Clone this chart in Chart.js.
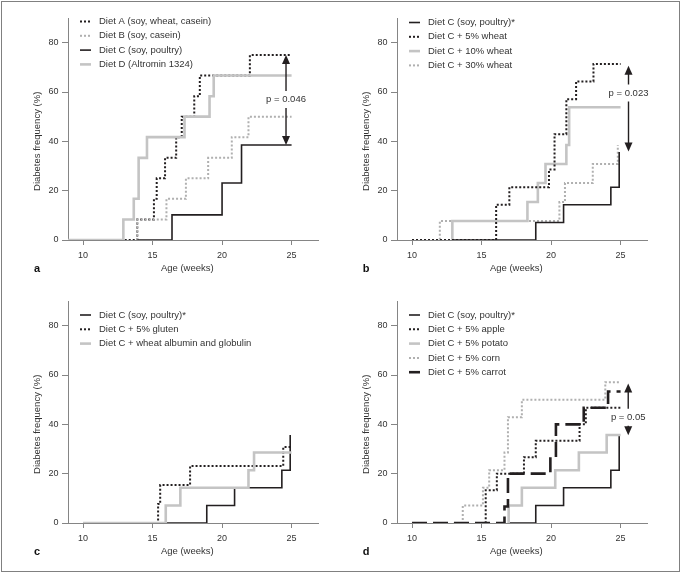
<!DOCTYPE html>
<html>
<head>
<meta charset="utf-8">
<script src="https://cdn.jsdelivr.net/npm/chart.js@4.4.0/dist/chart.umd.min.js"></script>
<style>
  html, body { margin: 0; padding: 0; background: #fff; }
  #page { position: relative; width: 681px; height: 573px; overflow: hidden; }
  #frame { position: absolute; left: 1px; top: 1px; width: 679px; height: 571px; border: 1px solid #808080; box-sizing: border-box; }
  canvas { position: absolute; }
</style>
</head>
<body>
<div id="page">
  <div id="frame"></div>
  <canvas id="chartA" width="329" height="283" style="left:0;top:0"></canvas>
  <canvas id="chartB" width="329" height="283" style="left:329px;top:0"></canvas>
  <canvas id="chartC" width="329" height="283" style="left:0;top:283px"></canvas>
  <canvas id="chartD" width="329" height="283" style="left:329px;top:283px"></canvas>
</div>
<script>
// axis ticks (shared by all four panels)
const xTicks = [10, 15, 20, 25];
const yTicks = [0, 20, 40, 60, 80];

// panel a
const aLabels = ['Diet A (soy, wheat, casein)', 'Diet B (soy, casein)', 'Diet C (soy, poultry)', 'Diet D (Altromin 1324)'];
const a_dietA_x = [13.0, 13.9, 15.1, 15.3, 15.9, 16.7, 17.1, 18.0, 18.4, 22.0, 25];
const a_dietA_y = [0, 8.3, 16.7, 25, 33.3, 41.7, 50, 58.3, 66.7, 75, 75];
const a_dietB_x = [13.9, 13.9, 16.0, 17.4, 19.0, 20.7, 21.9, 25];
const a_dietB_y = [0, 8.3, 16.7, 25, 33.3, 41.7, 50, 50];
const a_dietC_x = [13.9, 16.4, 20.0, 21.4, 25];
const a_dietC_y = [0, 10.2, 23.1, 38.5, 38.5];
const a_dietD_x = [8.92, 12.9, 13.65, 14.0, 14.6, 17.3, 19.1, 19.4, 25];
const a_dietD_y = [0, 8.3, 16.7, 33.3, 41.7, 50, 58.3, 66.7, 66.7];

// panel b
const bLabels = ['Diet C (soy, poultry)*', 'Diet C + 5% wheat', 'Diet C + 10% wheat', 'Diet C + 30% wheat'];
const b_dietC_x = [13.0, 18.9, 20.9, 24.3, 24.9];
const b_dietC_y = [0, 7.1, 14.3, 21.4, 35.7];
const b_wheat5_x = [10, 16.05, 17.0, 19.85, 20.25, 21.1, 21.8, 23.05, 25];
const b_wheat5_y = [0, 14.3, 21.4, 28.6, 42.9, 57.1, 64.3, 71.4, 71.4];
const b_wheat10_x = [12.9, 12.9, 18.3, 19.05, 19.6, 21.1, 21.3, 25];
const b_wheat10_y = [0, 7.7, 15.4, 23.1, 30.8, 38.5, 53.8, 53.8];
const b_wheat30_x = [10, 12.0, 20.6, 21.0, 23.0, 24.8];
const b_wheat30_y = [0, 7.7, 15.4, 23.1, 30.8, 38.5];

// panel c
const cLabels = ['Diet C (soy, poultry)*', 'Diet C + 5% gluten', 'Diet C + wheat albumin and globulin'];
const c_dietC_x = [15.95, 18.9, 20.9, 24.3, 24.9];
const c_dietC_y = [0, 7.1, 14.3, 21.4, 35.7];
const c_gluten_x = [15.0, 15.4, 15.55, 17.7, 24.4, 25];
const c_gluten_y = [0, 7.7, 15.4, 23.1, 30.8, 30.8];
const c_albumin_x = [10, 15.95, 17.0, 21.9, 22.3, 25];
const c_albumin_y = [0, 7.1, 14.3, 21.4, 28.6, 28.6];

// panel d
const dLabels = ['Diet C (soy, poultry)*', 'Diet C + 5% apple', 'Diet C + 5% potato', 'Diet C + 5% corn', 'Diet C + 5% carrot'];
const d_dietC_x = [16.9, 18.9, 20.9, 24.3, 24.9];
const d_dietC_y = [0, 7.1, 14.3, 21.4, 35.7];
const d_apple_x = [15.0, 15.3, 16.1, 18.05, 18.9, 22.05, 22.5, 25];
const d_apple_y = [0, 13.3, 20, 26.7, 33.3, 40, 46.7, 46.7];
const d_potato_x = [16.9, 16.95, 17.9, 20.3, 22.0, 24.0, 25];
const d_potato_y = [0, 7.1, 14.3, 21.4, 28.6, 35.7, 35.7];
const d_corn_x = [13.0, 13.65, 15.1, 15.55, 16.65, 16.9, 17.9, 23.9, 25];
const d_corn_y = [0, 7.1, 14.3, 21.4, 28.6, 42.9, 50, 57.1, 57.1];
const d_carrot_x = [10, 16.65, 16.9, 19.95, 20.35, 22.35, 24.1, 25];
const d_carrot_y = [0, 6.7, 20, 26.7, 40, 46.7, 53.3, 53.3];

// p-value brackets (x position, arrow tips, label height)
const pA = { x: 24.6, top: 75, bottom: 38.5, labelY: 57, label: 'p = 0.046' };
const pB = { x: 25.57, top: 70.6, bottom: 35.9, labelY: 59.6, label: 'p = 0.023' };
const pD = { x: 25.55, top: 56.6, bottom: 35.6, labelY: 42.9, label: 'p = 0.05' };

const BLACK = '#231f20';
const GREY = '#c4c4c4';
const GREY_DOT = '#b0b0b0';
const AXIS = '#858585';
const TEXT = '#333';
const FAMILY = "'Liberation Sans', Arial, sans-serif";

const solidBlack = { borderColor: BLACK, borderWidth: 1.6 };
const dotBlack = { borderColor: BLACK, borderWidth: 2, borderDash: [2, 2] };
const solidGrey = { borderColor: GREY, borderWidth: 2.6 };
const dotGrey = { borderColor: GREY_DOT, borderWidth: 2, borderDash: [2, 2] };
const dashBlack = { borderColor: BLACK, borderWidth: 2.6, borderDash: [15, 6] };

function pts(xs, ys) {
    return xs.map((x, i) => ({ x: x, y: ys[i] }));
}

function series(label, xs, ys, style, order) {
    return Object.assign({
        label: label,
        data: pts(xs, ys),
        stepped: true,
        pointRadius: 0,
        fill: false,
        order: order
    }, style);
}

// legend, axis titles, panel letter and p-value arrow
const panelDecor = {
    id: 'panelDecor',
    afterDraw(chart, args, opts) {
        const { ctx, chartArea, scales: { x, y } } = chart;
        ctx.save();
        ctx.font = '9.5px ' + FAMILY;
        ctx.textBaseline = 'middle';

        chart.data.datasets.forEach((ds, i) => {
            const ly = chartArea.top + opts.legendTop + i * 14.3;
            ctx.beginPath();
            ctx.strokeStyle = ds.borderColor;
            ctx.lineWidth = ds.borderWidth;
            ctx.setLineDash(ds.borderDash || []);
            ctx.moveTo(chartArea.left + 12, ly);
            ctx.lineTo(chartArea.left + 23, ly);
            ctx.stroke();
            ctx.setLineDash([]);
            ctx.fillStyle = TEXT;
            ctx.textAlign = 'left';
            ctx.fillText(ds.label, chartArea.left + 31, ly);
        });

        ctx.fillStyle = TEXT;
        ctx.textAlign = 'center';
        ctx.fillText('Age (weeks)', x.getPixelForValue(17.5), 268);
        ctx.save();
        ctx.translate(37, y.getPixelForValue(40));
        ctx.rotate(-Math.PI / 2);
        ctx.fillText('Diabetes frequency (%)', 0, 0);
        ctx.restore();

        ctx.font = 'bold 11px ' + FAMILY;
        ctx.fillStyle = '#111';
        ctx.fillText(opts.letter, 37, 269);

        const p = opts.arrow;
        if (p) {
            const ax = x.getPixelForValue(p.x);
            const ty = y.getPixelForValue(p.top);
            const by = y.getPixelForValue(p.bottom);
            const ly = y.getPixelForValue(p.labelY);
            ctx.strokeStyle = BLACK;
            ctx.fillStyle = BLACK;
            ctx.lineWidth = 1.4;
            ctx.beginPath();
            ctx.moveTo(ax, ty + 6);
            ctx.lineTo(ax, ly - 8.5);
            ctx.moveTo(ax, ly + 8.5);
            ctx.lineTo(ax, by - 6);
            ctx.stroke();
            ctx.beginPath();
            ctx.moveTo(ax, ty);
            ctx.lineTo(ax - 4, ty + 9);
            ctx.lineTo(ax + 4, ty + 9);
            ctx.closePath();
            ctx.fill();
            ctx.beginPath();
            ctx.moveTo(ax, by);
            ctx.lineTo(ax - 4, by - 9);
            ctx.lineTo(ax + 4, by - 9);
            ctx.closePath();
            ctx.fill();
            ctx.font = '9.5px ' + FAMILY;
            ctx.fillStyle = TEXT;
            ctx.fillText(p.label, ax, ly);
        }
        ctx.restore();
    }
};

function makePanel(id, datasets, decor) {
    return new Chart(document.getElementById(id), {
        type: 'line',
        data: { datasets: datasets },
        options: {
            responsive: false,
            animation: false,
            devicePixelRatio: 1,
            layout: { padding: { left: 0, right: 11, top: 18, bottom: 0 } },
            plugins: {
                legend: { display: false },
                tooltip: { enabled: false },
                panelDecor: decor
            },
            scales: {
                x: {
                    type: 'linear',
                    min: 8.92,
                    max: 26.9,
                    afterFit: s => { s.height = 43; },
                    afterBuildTicks: s => { s.ticks = xTicks.map(v => ({ value: v })); },
                    grid: { drawOnChartArea: false, tickLength: 5, color: AXIS },
                    border: { color: AXIS },
                    ticks: { font: { family: FAMILY, size: 9 }, color: TEXT, padding: 5, maxRotation: 0 }
                },
                y: {
                    type: 'linear',
                    min: 0,
                    max: 90,
                    afterFit: s => { s.width = 68; },
                    afterBuildTicks: s => { s.ticks = yTicks.map(v => ({ value: v })); },
                    grid: { drawOnChartArea: false, tickLength: 6, color: AXIS },
                    border: { color: AXIS },
                    ticks: { font: { family: FAMILY, size: 9 }, color: TEXT, padding: 3.5 }
                }
            }
        },
        plugins: [panelDecor]
    });
}

makePanel('chartA', [
    series(aLabels[0], a_dietA_x, a_dietA_y, dotBlack, 3),
    series(aLabels[1], a_dietB_x, a_dietB_y, dotGrey, 2),
    series(aLabels[2], a_dietC_x, a_dietC_y, solidBlack, 1),
    series(aLabels[3], a_dietD_x, a_dietD_y, solidGrey, 0)
], { letter: 'a', legendTop: 3.5, arrow: pA });

makePanel('chartB', [
    series(bLabels[0], b_dietC_x, b_dietC_y, solidBlack, 0),
    series(bLabels[1], b_wheat5_x, b_wheat5_y, dotBlack, 1),
    series(bLabels[2], b_wheat10_x, b_wheat10_y, solidGrey, 2),
    series(bLabels[3], b_wheat30_x, b_wheat30_y, dotGrey, 3)
], { letter: 'b', legendTop: 4.5, arrow: pB });

makePanel('chartC', [
    series(cLabels[0], c_dietC_x, c_dietC_y, solidBlack, 2),
    series(cLabels[1], c_gluten_x, c_gluten_y, dotBlack, 1),
    series(cLabels[2], c_albumin_x, c_albumin_y, solidGrey, 0)
], { letter: 'c', legendTop: 14, arrow: null });

makePanel('chartD', [
    series(dLabels[0], d_dietC_x, d_dietC_y, solidBlack, 4),
    series(dLabels[1], d_apple_x, d_apple_y, dotBlack, 3),
    series(dLabels[2], d_potato_x, d_potato_y, solidGrey, 2),
    series(dLabels[3], d_corn_x, d_corn_y, dotGrey, 1),
    series(dLabels[4], d_carrot_x, d_carrot_y, dashBlack, 0)
], { letter: 'd', legendTop: 14, arrow: pD });
</script>
</body>
</html>
